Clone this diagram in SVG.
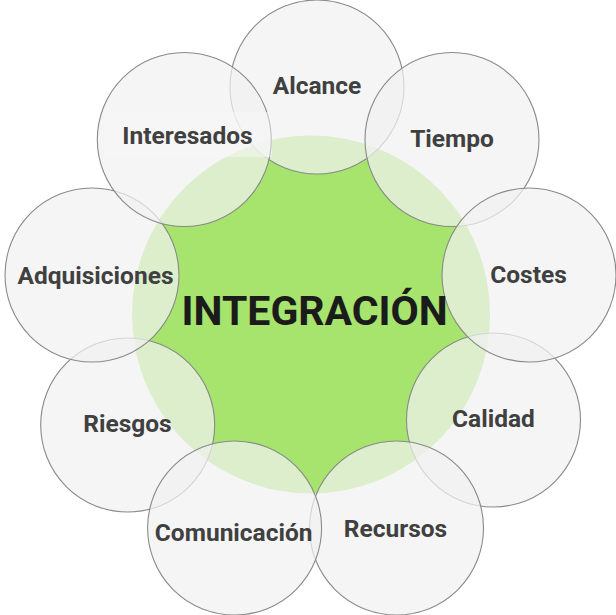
<svg xmlns="http://www.w3.org/2000/svg" width="616" height="615" viewBox="0 0 616 615">
<style>
.c{fill:#f1f1f1;fill-opacity:0.72;stroke:#8a8a8a;stroke-width:1.1}
.t{font-family:Roboto,"Liberation Sans",sans-serif;font-weight:bold;font-size:24.5px;fill:#404040;text-anchor:middle}
.m{font-family:Roboto,"Liberation Sans",sans-serif;font-weight:bold;font-size:41px;fill:#1b1b1b;text-anchor:middle}
</style>
<rect width="616" height="615" fill="#ffffff"/>
<g id="center">
<circle cx="311" cy="314.5" r="179" fill="#a6e46e"/>
</g>
<g id="alcance"><circle class="c" cx="317" cy="87" r="87"/><text class="t" x="317" y="94">Alcance</text></g>
<g id="calidad"><circle class="c" cx="493.5" cy="420" r="87"/><text class="t" x="493.5" y="427">Calidad</text></g>
<g id="recursos"><circle class="c" cx="396.5" cy="528" r="87"/><text class="t" x="395.5" y="537">Recursos</text></g>
<g id="riesgos"><circle class="c" cx="127.7" cy="425" r="87"/><text class="t" x="127.5" y="432">Riesgos</text></g>
<g id="adquisiciones"><circle class="c" cx="92" cy="275" r="87"/><text class="t" x="95.5" y="284">Adquisiciones</text></g>
<g id="interesados"><circle class="c" cx="184.3" cy="139.5" r="87"/><rect x="105" y="112" width="167" height="45" fill="#f8f8f8" fill-opacity="0.5"/><text class="t" x="187.5" y="144">Interesados</text></g>
<g id="tiempo"><circle class="c" cx="452" cy="139.5" r="87"/><text class="t" x="452" y="147">Tiempo</text></g>
<g id="costes"><circle class="c" cx="529" cy="275" r="87"/><text class="t" x="528.5" y="282.5">Costes</text></g>
<g id="comunicacion"><circle class="c" cx="234.6" cy="528" r="87"/><text class="t" x="233.7" y="540.5">Comunicación</text></g>
<g id="label-center"><text class="m" x="314.7" y="325">INTEGRACIÓN</text></g>
<g id="connectors"/>
</svg>
